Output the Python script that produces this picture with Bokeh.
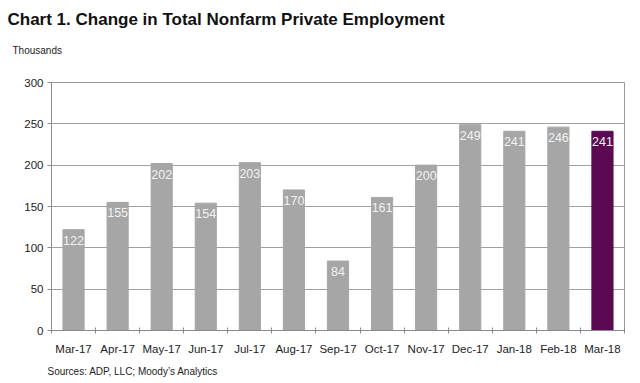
from bokeh.plotting import figure
from bokeh.models import ColumnDataSource, FixedTicker, Title, Range1d
from bokeh.core.properties import value
from bokeh.embed import file_html
from bokeh.resources import INLINE

months = ["Mar-17", "Apr-17", "May-17", "Jun-17", "Jul-17", "Aug-17", "Sep-17",
          "Oct-17", "Nov-17", "Dec-17", "Jan-18", "Feb-18", "Mar-18"]
changes = [122, 155, 202, 154, 203, 170, 84, 161, 200, 249, 241, 246, 241]
y_ticks = [0, 50, 100, 150, 200, 250, 300]

GRAY = "#a6a6a6"
PURPLE = "#5b0a52"
FONT = "Liberation Sans"
xs = [i + 0.5 for i in range(len(months))]
colors = [GRAY] * (len(months) - 1) + [PURPLE]
src = ColumnDataSource(dict(x=xs, y=changes, c=colors, t=[str(v) for v in changes]))

p = figure(width=640, height=383, output_backend="svg", toolbar_location=None,
           x_range=Range1d(0, len(months)), y_range=Range1d(0, 300),
           min_border_left=51, min_border_right=16, min_border_top=82, min_border_bottom=53)
p.background_fill_color = "white"
p.border_fill_color = "white"
p.outline_line_color = "#9a9a9a"
p.outline_line_width = 1

p.vbar(x="x", top="y", width=0.48, bottom=0, fill_color="c", line_color="c", source=src)
p.text(x="x", y="y", text="t", source=src, text_align="center", text_baseline="top",
       y_offset=6, text_color="#f2f2f2", text_font=value(FONT),
       text_font_size="12.5px")

# x axis
p.xaxis.ticker = FixedTicker(ticks=xs, minor_ticks=list(range(len(months) + 1)))
p.xaxis.major_label_overrides = {x: m for x, m in zip(xs, months)}
p.xaxis.major_tick_line_color = None
p.xaxis.minor_tick_in = 3
p.xaxis.minor_tick_out = 3
p.xaxis.minor_tick_line_color = "#8a8a8a"
p.xaxis.axis_line_color = "#8a8a8a"
p.xaxis.major_label_text_font = FONT
p.xaxis.major_label_text_font_size = "11.5px"
p.xaxis.major_label_text_color = "#222222"
p.xaxis.major_label_standoff = 6
p.xgrid.visible = False

# y axis
p.yaxis.ticker = FixedTicker(ticks=y_ticks)
p.yaxis.minor_tick_line_color = None
p.yaxis.major_tick_in = 0
p.yaxis.major_tick_out = 4
p.yaxis.major_tick_line_color = "#8a8a8a"
p.yaxis.axis_line_color = "#8a8a8a"
p.yaxis.major_label_text_font = FONT
p.yaxis.major_label_text_font_size = "11.5px"
p.yaxis.major_label_text_color = "#222222"
p.yaxis.major_label_standoff = 4
p.ygrid.grid_line_color = "#a0a0a0"
p.ygrid.grid_line_width = 1

p.title = Title(text="Chart 1. Change in Total Nonfarm Private Employment",
                align="left", offset=-44, standoff=8,
                text_font=FONT, text_font_style="bold",
                text_font_size="17px", text_color="#111111")
# spacer (closest to the frame), then the unit label
p.add_layout(Title(text=" ", align="left", standoff=4,
                   text_font=FONT, text_font_size="10px", text_color="#ffffff"), "above")
p.add_layout(Title(text="Thousands", align="left", offset=-39, standoff=20,
                   text_font=FONT, text_font_size="10px", text_font_style="normal",
                   text_color="#222222"), "above")
p.add_layout(Title(text="Sources: ADP, LLC; Moody\u2019s Analytics",
                   align="left", offset=-4, standoff=13,
                   text_font=FONT, text_font_size="10px", text_font_style="normal",
                   text_color="#222222"), "below")

open("out.html", "w").write(file_html(p, INLINE))
